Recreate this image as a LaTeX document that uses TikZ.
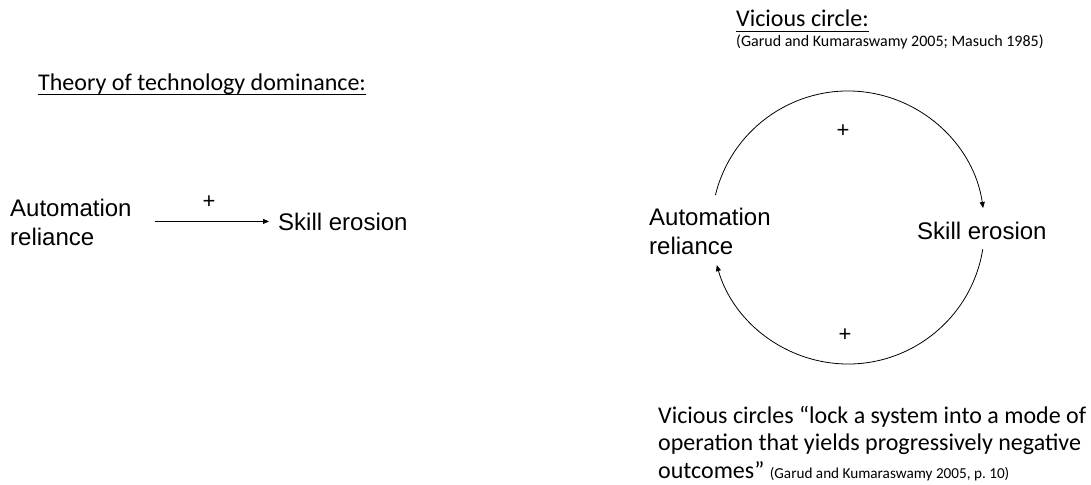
\documentclass[tikz,border=0pt]{standalone}
\usepackage{fontspec}
\setmainfont{Carlito}
\newfontfamily\arialfont{Liberation Sans}
\usetikzlibrary{arrows.meta}
\begin{document}
\begin{tikzpicture}[x=1pt,y=1pt,
  heading/.style={inner sep=0pt, anchor=base west, font=\fontsize{24}{28}\selectfont},
  cite/.style={inner sep=0pt, anchor=base west, font=\fontsize{16}{19}\selectfont},
  var/.style={inner sep=0pt, anchor=base west, align=left, font=\arialfont\fontsize{24}{29}\selectfont},
  sign/.style={inner sep=0pt, font=\arialfont\fontsize{22}{26}\selectfont},
  quote/.style={inner sep=0pt, anchor=base west, align=left, font=\fontsize{24}{27.5}\selectfont},
  link/.style={line width=0.8pt, -{Triangle[length=6pt,width=5pt]}},
  rule/.style={line width=0.9pt},
]
\useasboundingbox (0,0) rectangle (1091,-484);

% left: theory of technology dominance
\node[heading] (tdTitle) at (38,-91) {Theory of technology dominance:};
\draw[rule] ([yshift=-3.5pt]tdTitle.base west) -- ([yshift=-3.5pt]tdTitle.base east);

% multi-line nodes are placed by the baseline of their last line
\node[var] (autoL) at (10,-245) {Automation\\reliance};
\node[var] (skillL) at (278,-230) {Skill erosion};
\draw[link] ([xshift=23pt]autoL.east |- skillL.west) -- ([xshift=-9pt]skillL.west);
\node[sign] (plusL) at (209,-202) {+};

% right: vicious circle
\node[heading] (vcTitle) at (736,-27) {Vicious circle:};
\draw[rule] ([yshift=-4pt]vcTitle.base west) -- ([yshift=-4pt]vcTitle.base east);
\node[cite] (vcCite) at (736,-47) {(Garud and Kumaraswamy 2005; Masuch 1985)};

\node[var] (autoR) at (649,-254) {Automation\\reliance};
\node[var] (skillR) at (917,-239) {Skill erosion};

\coordinate (ctr) at (848,-227.5);
\draw[link] ([shift={(166.2:136.5pt)}]ctr) arc[start angle=166.2, end angle=8.2, radius=136.5pt];
\draw[link] ([shift={(-9.1:136.5pt)}]ctr) arc[start angle=-9.1, end angle=-164, radius=136.5pt];
\node[sign] (plusTop) at (843,-131) {+};
\node[sign] (plusBot) at (845,-335) {+};

\node[quote] (vcQuote) at (658,-478) {Vicious circles “lock a system into a mode of\\
operation that yields progressively negative\\
outcomes” {\fontsize{15.2}{18}\selectfont (Garud and Kumaraswamy 2005, p.~10)}};
\end{tikzpicture}
\end{document}
